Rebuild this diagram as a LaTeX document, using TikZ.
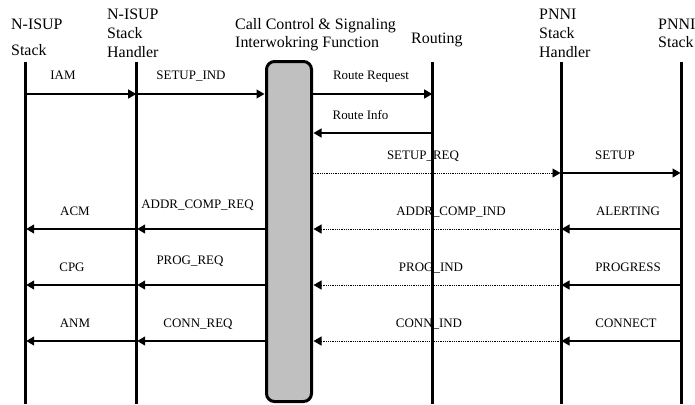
\documentclass[tikz,border=0pt]{standalone}
\usepackage{fontspec}
\setmainfont{Liberation Serif}
\usetikzlibrary{arrows.meta}
\definecolor{boxgray}{RGB}{192,192,192}
\begin{document}
\begin{tikzpicture}[x=1bp,y=-1bp,
 life/.style={line width=3bp},
 msg/.style={line width=1.2bp,-{Triangle[length=8bp,width=9bp]},shorten >=0.5bp},
 dmsg/.style={msg, dash pattern=on 0.9bp off 0.9bp, line width=0.9bp},
 lbl/.style={font=\fontsize{13}{15}\selectfont, anchor=base, inner sep=0},
 hdr/.style={font=\fontsize{16}{19}\selectfont, anchor=base west, inner sep=0},
 ccbox/.style={draw, line width=3bp, fill=boxgray, rounded corners=8bp, minimum width=45bp, minimum height=340bp, inner sep=0}]
\useasboundingbox (0,0) rectangle (695,404);

% headers
\node[hdr] (h1a) at (11,29.5) {N-ISUP};
\node[hdr] (h1b) at (11,55) {Stack};
\node[hdr] (h2a) at (107,19) {N-ISUP};
\node[hdr] (h2b) at (107,38) {Stack};
\node[hdr] (h2c) at (107,57) {Handler};
\node[hdr] (h3a) at (235,29) {Call Control \& Signaling};
\node[hdr] (h3b) at (235,47) {Interwokring Function};
\node[hdr] (h4) at (411,43) {Routing};
\node[hdr] (h5a) at (539,19.5) {PNNI};
\node[hdr] (h5b) at (539,38.5) {Stack};
\node[hdr] (h5c) at (539,57) {Handler};
\node[hdr] (h6a) at (658,29) {PNNI};
\node[hdr] (h6b) at (658,47) {Stack};

% lifeline anchors
\coordinate (ls) at (25.7,62);
\coordinate (lh) at (136.7,62);
\coordinate (rt) at (432.7,62);
\coordinate (ph) at (561,62);
\coordinate (ps) at (681,62);
\coordinate (lsb) at (25.7,404);
\coordinate (lhb) at (136.7,404);
\coordinate (rtb) at (432.7,404);
\coordinate (phb) at (561,404);
\coordinate (psb) at (681,404);

% message levels
\coordinate (m1) at (0,94);
\coordinate (m2) at (0,133);
\coordinate (m3) at (0,173);
\coordinate (m4) at (0,229);
\coordinate (m5) at (0,285);
\coordinate (m6) at (0,341);

% box
\node[ccbox] (cc) at (289,231.5) {};

% labels
\node[lbl] (l1) at (63,79) {IAM};
\node[lbl] (l2) at (191,79) {SETUP\_IND};
\node[lbl] (l3) at (371,79) {Route Request};
\node[lbl] (l4) at (360.5,119) {Route Info};
\node[lbl] (l5) at (423,159) {SETUP\_REQ};
\node[lbl] (l6) at (615,159) {SETUP};
\node[lbl] (l7) at (75,215) {ACM};
\node[lbl] (l8) at (197.5,208) {ADDR\_COMP\_REQ};
\node[lbl] (l9) at (451,215) {ADDR\_COMP\_IND};
\node[lbl] (l10) at (628,215) {ALERTING};
\node[lbl] (l11) at (72,271) {CPG};
\node[lbl] (l12) at (190,264) {PROG\_REQ};
\node[lbl] (l13) at (431,271) {PROG\_IND};
\node[lbl] (l14) at (628,271) {PROGRESS};
\node[lbl] (l15) at (75,327) {ANM};
\node[lbl] (l16) at (198,327) {CONN\_REQ};
\node[lbl] (l17) at (429,327) {CONN\_IND};
\node[lbl] (l18) at (626,327) {CONNECT};

% messages
\draw[msg] (ls|-m1) -- (lh|-m1);
\draw[msg] (lh|-m1) -- (cc.west|-m1);
\draw[msg] (cc.east|-m1) -- (rt|-m1);
\draw[msg] (rt|-m2) -- (cc.east|-m2);
\draw[dmsg] (cc.east|-m3) -- (ph|-m3);
\draw[msg] (ph|-m3) -- (ps|-m3);
\foreach \m in {m4,m5,m6}{
  \draw[msg] (ps|-\m) -- (ph|-\m);
  \draw[dmsg] (ph|-\m) -- (cc.east|-\m);
  \draw[msg] (cc.west|-\m) -- (lh|-\m);
  \draw[msg] (lh|-\m) -- (ls|-\m);
}

% lifelines
\draw[life] (ls) -- (lsb);
\draw[life] (lh) -- (lhb);
\draw[life] (rt) -- (rtb);
\draw[life] (ph) -- (phb);
\draw[life] (ps) -- (psb);
\end{tikzpicture}
\end{document}
